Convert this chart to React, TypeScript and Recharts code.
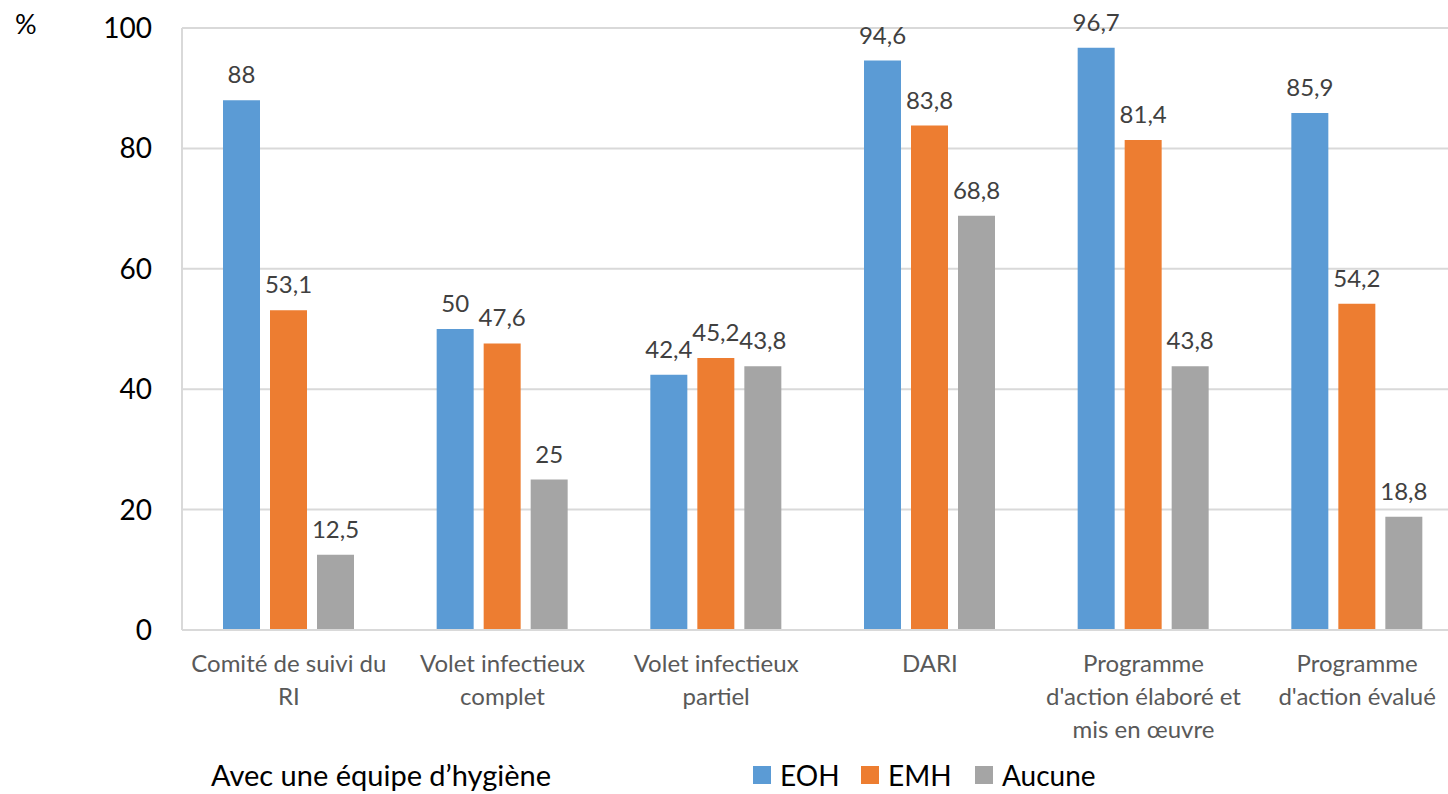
import { Bar, BarChart, CartesianGrid, LabelList, Legend, XAxis, YAxis } from "recharts";

const categories = [
  ["Comité de suivi du", "RI"],
  ["Volet infectieux", "complet"],
  ["Volet infectieux", "partiel"],
  ["DARI"],
  ["Programme", "d'action élaboré et", "mis en œuvre"],
  ["Programme", "d'action évalué"],
];
const eoh = [88, 50, 42.4, 94.6, 96.7, 85.9];
const emh = [53.1, 47.6, 45.2, 83.8, 81.4, 54.2];
const aucune = [12.5, 25, 43.8, 68.8, 43.8, 18.8];
const yTicks = [0, 20, 40, 60, 80, 100];

const data = categories.map((lines, i) => ({
  name: lines.join(" "),
  EOH: eoh[i],
  EMH: emh[i],
  Aucune: aucune[i],
}));

const FONT = "Lato, 'Open Sans', sans-serif";
const fmt = (v: unknown) => String(v).replace(".", ",");

function CategoryTick(props: any) {
  const { x, y, index } = props;
  const lines = categories[index] || [];
  return (
    <text x={x} y={y} textAnchor="middle" fill="#595959" fontSize={24} fontFamily={FONT}>
      {lines.map((l, k) => (
        <tspan key={k} x={x} y={y + 42 + k * 33}>
          {l}
        </tspan>
      ))}
    </text>
  );
}

const legendItems = [
  { label: "EOH", color: "#5B9BD5", left: 753 },
  { label: "EMH", color: "#ED7D31", left: 861 },
  { label: "Aucune", color: "#A5A5A5", left: 975 },
];

function LegendBox() {
  return (
    <div style={{ position: "relative", height: 40, width: 1448, fontFamily: FONT, fontSize: 28, color: "#000" }}>
      <span style={{ position: "absolute", left: 211, top: 6, lineHeight: "30px", fontSize: 29 }}>Avec une équipe d’hygiène</span>
      {legendItems.map((it) => (
        <div key={it.label} style={{ position: "absolute", left: it.left, top: 6, height: 30, display: "flex", alignItems: "center" }}>
          <span style={{ width: 18, height: 18, background: it.color, display: "inline-block", marginRight: 9 }} />
          <span>{it.label}</span>
        </div>
      ))}
    </div>
  );
}

export default function App() {
  return (
    <div style={{ position: "fixed", left: 0, top: 0, width: 1448, height: 794, overflow: "hidden", background: "#fff" }}>
      <BarChart
        width={1464}
        height={794}
        data={data}
        margin={{ top: 28, right: 0, left: 0, bottom: 0 }}
        barCategoryGap={41}
        barGap={10}
      >
        <CartesianGrid vertical={false} stroke="#d9d9d9" strokeWidth={2} />
        <XAxis
          dataKey="name"
          height={124}
          interval={0}
          tickLine={false}
          tickSize={0}
          tickMargin={0}
          axisLine={{ stroke: "#d9d9d9", strokeWidth: 2 }}
          tick={<CategoryTick />}
        />
        <YAxis
          width={182}
          domain={[0, 100]}
          ticks={yTicks}
          interval={0}
          tickLine={false}
          tickSize={28}
          tickMargin={2}
          axisLine={{ stroke: "#d9d9d9", strokeWidth: 2 }}
          tick={{ fill: "#000", fontSize: 28, fontFamily: FONT }}
          label={{
            content: () => (
              <text x={15} y={34} fontSize={27} fontFamily={FONT} fill="#000">
                %
              </text>
            ),
          }}
        />
        <Legend verticalAlign="bottom" align="left" content={() => <LegendBox />} />
        <Bar dataKey="EOH" fill="#5B9BD5" isAnimationActive={false}>
          <LabelList dataKey="EOH" position="top" offset={17} formatter={fmt} fill="#404040" fontSize={24} fontFamily={FONT} />
        </Bar>
        <Bar dataKey="EMH" fill="#ED7D31" isAnimationActive={false}>
          <LabelList dataKey="EMH" position="top" offset={17} formatter={fmt} fill="#404040" fontSize={24} fontFamily={FONT} />
        </Bar>
        <Bar dataKey="Aucune" fill="#A5A5A5" isAnimationActive={false}>
          <LabelList dataKey="Aucune" position="top" offset={17} formatter={fmt} fill="#404040" fontSize={24} fontFamily={FONT} />
        </Bar>
      </BarChart>
    </div>
  );
}
